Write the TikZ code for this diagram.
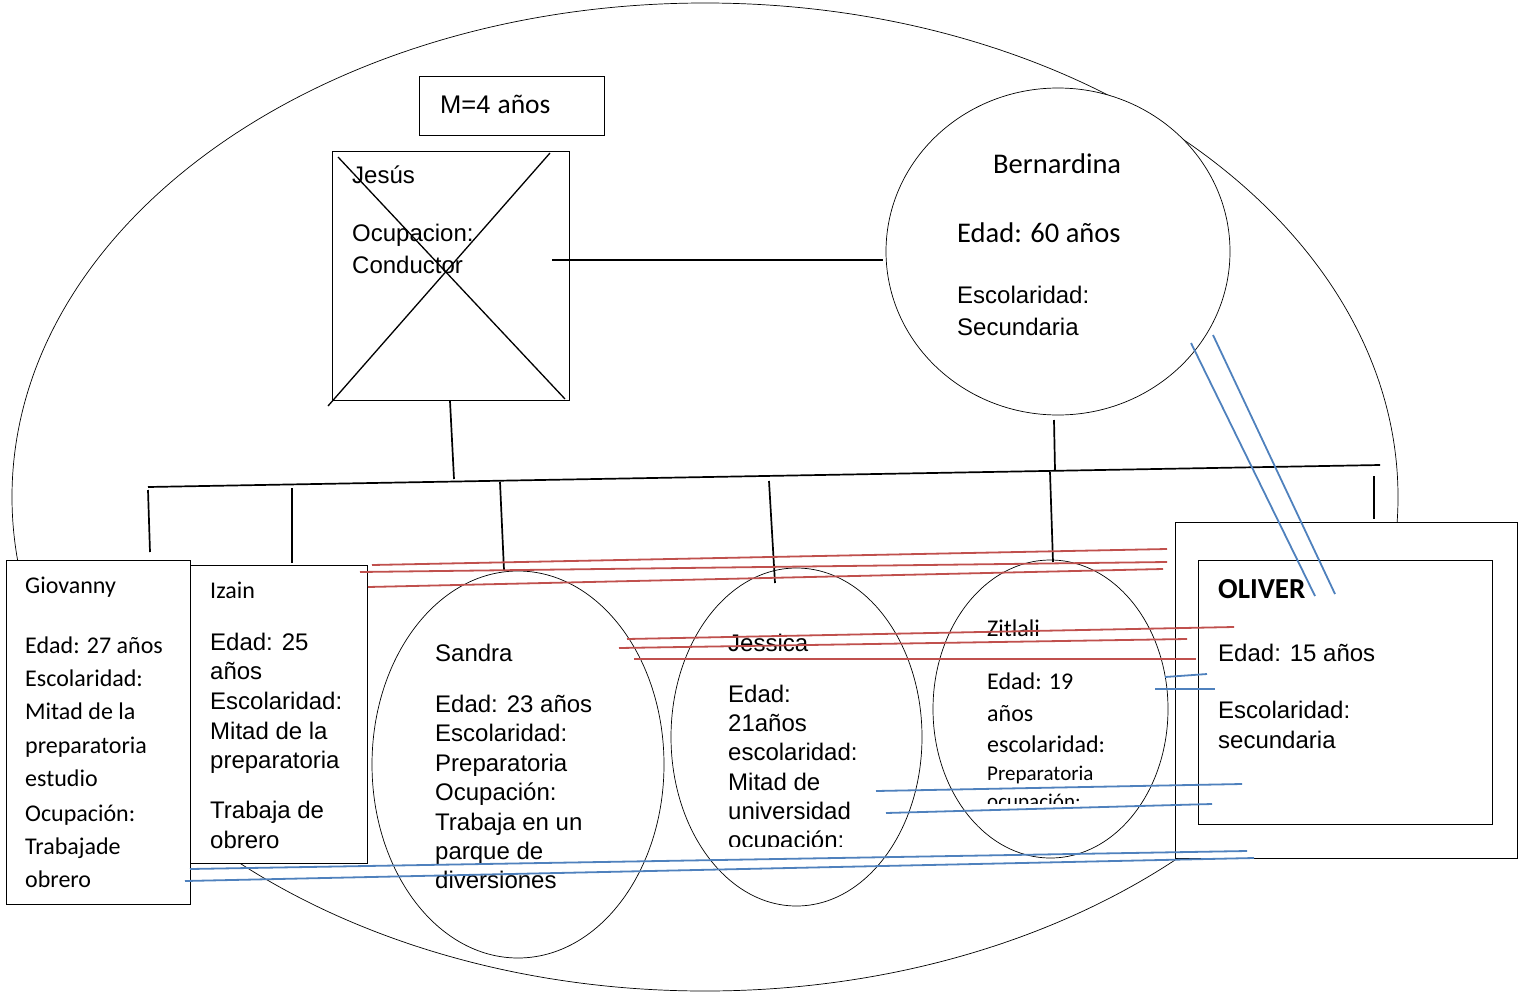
\documentclass[tikz,border=0pt]{standalone}
\usepackage{fontspec}
\setmainfont{Liberation Sans}
\newfontfamily\calibri{Carlito}
\usetikzlibrary{shapes.geometric}
\definecolor{lineared}{RGB}{192,80,77}
\definecolor{lineablue}{RGB}{79,129,189}

\begin{document}
\begin{tikzpicture}[x=1pt,y=-1pt,
    caja/.style={draw, fill=white, rectangle, inner sep=0pt, line width=0.9pt},
    ovalo/.style={draw, fill=white, ellipse, inner sep=0pt, line width=0.7pt},
    arial/.style={anchor=base west, inner sep=0pt, font=\fontsize{24}{29}\selectfont},
    cali/.style={anchor=base west, inner sep=0pt, font=\calibri\fontsize{24}{29}\selectfont},
    calichica/.style={anchor=base west, inner sep=0pt, font=\calibri\fontsize{21}{25}\selectfont},
    caligrande/.style={anchor=base west, inner sep=0pt, font=\calibri\fontsize{28.5}{34}\selectfont},
    calinegra/.style={anchor=base west, inner sep=0pt, font=\calibri\bfseries\fontsize{29}{34}\selectfont}]
    \useasboundingbox (0,0) rectangle (1523,993);
        \node[draw, ellipse, inner sep=0pt, line width=0.7pt, minimum width=1386pt, minimum height=988pt] (familia) at (705,497) {};
        % cajas y ovalos
        \foreach \x/\y/\w/\h/\n in {511.5/105.5/185/59/medad,450.5/275.5/237/249/jesus,98/732/184/344/giovanny,278.5/714/177/298/izain,1346/690/342/336/oliverout,1345/692/294/264/oliver}{
            \node[caja, minimum width=\w pt, minimum height=\h pt] (\n) at (\x,\y) {};
        }
        \foreach \x/\y/\w/\h/\n in {1058/251.5/344/327/bernardina,518/764.5/292/387/sandra,796.5/737/251/338/jessica,1050.5/709/235/298/zitlali}{
            \node[ovalo, minimum width=\w pt, minimum height=\h pt] (\n) at (\x,\y) {};
        }
        % textos
        \node[arial, font=\fontsize{25.5}{29}\selectfont] (m1) at (440,113) {M=4 {\calibri\fontsize{27.5}{30}\selectfont años}};
        \foreach \x/\y/\n/\s/\l in {352/183/je1/arial/Jesús,352/241.5/je2/arial/Ocupacion:,352/273/je3/arial/Conductor,
            993/173/be1/caligrande/Bernardina,957/242/be2/caligrande/Edad: 60 años,957/303/be3/arial/Escolaridad:,957/335/be4/arial/Secundaria,
            25/593/gi1/cali/Giovanny,25/653/gi2/cali/Edad: 27 años,25/686/gi3/cali/Escolaridad:,25/719/gi4/cali/Mitad de la,25/753/gi5/cali/preparatoria,25/786/gi6/cali/estudio,25/821/gi7/cali/Ocupación:,25/854/gi8/cali/Trabajade,25/887/gi9/cali/obrero,
            210/598/iz1/cali/Izain,210/650/iz2/arial/Edad: 25,210/679/iz3/arial/años,210/709/iz4/arial/Escolaridad:,210/739/iz5/arial/Mitad de la,210/768/iz6/arial/preparatoria,210/818/iz7/arial/Trabaja de,210/848/iz8/arial/obrero,
            435/661/sa1/arial/Sandra,435/712/sa2/arial/Edad: 23 años,435/741/sa3/arial/Escolaridad:,435/771/sa4/arial/Preparatoria,435/800/sa5/arial/Ocupación:,435/830/sa6/arial/Trabaja en un,435/859/sa7/arial/parque de,435/888/sa8/arial/diversiones,
            1218/598/ol1/calinegra/OLIVER,1218/661/ol2/arial/Edad: 15 años,1218/718/ol3/arial/Escolaridad:,1218/748/ol4/arial/secundaria}{
            \node[\s] (\n) at (\x,\y) {\l};
        }
        \begin{scope}
            \clip (700,600) rectangle (900,846);
            \foreach \x/\y/\n/\l in {728/651/js1/Jessica,728/702/js2/Edad:,728/731/js3/21años,728/760/js4/escolaridad:,728/790/js5/Mitad de,728/819/js6/universidad,728/848/js7/ocupación:}{
                \node[arial] (\n) at (\x,\y) {\l};
            }
        \end{scope}
        \begin{scope}
            \clip (960,600) rectangle (1140,803);
            \foreach \x/\y/\n/\s/\l in {987/636/zi1/cali/Zitlali,987/689/zi2/cali/Edad: 19,987/721/zi3/cali/años,987/752/zi4/cali/escolaridad:,987/780/zi5/calichica/Preparatoria,987/808/zi6/calichica/ocupación:}{
                \node[\s] (\n) at (\x,\y) {\l};
            }
        \end{scope}
        % puntos de las lineas
        \foreach \x/\y/\n in {338/157/xa,565/399/xb,550/153/xc,328/406/xd,552/260/jesusR,883/260/bernaL,450/401/jesusB,454/479/barJ,1054/420/bernaB,1055/470/barB,148/487/barL,1380/465/barR,
            148/490/g1,150/552/g2,292/488/i1,292/563/i2,500/482/s1,504/570/s2,769/481/j1,775/583/j2,1050/472/z1,1053/562/z2,1374/476/o1,1374/519/o2}{
            \coordinate (\n) at (\x,\y);
        }
        \foreach \m/\n in {xa/xb,xc/xd}{
            \draw[line width=1.3pt] (\m) -- (\n);
        }
        \foreach \m/\n in {jesusR/bernaL,jesusB/barJ,bernaB/barB,barL/barR,g1/g2,i1/i2,s1/s2,j1/j2,z1/z2,o1/o2}{
            \draw[line width=1.7pt] (\m) -- (\n);
        }
        % lineas rojas
        \foreach \x/\y/\u/\v/\n in {372/565/1167/549/r1,360/572/1167/562/r2,368/587/1163/569/r3,627/639/1234/627/r4,619/648/1187/639/r5,634/659/1196/659/r6}{
            \coordinate (\n a) at (\x,\y);
            \coordinate (\n b) at (\u,\v);
            \draw[lineared, line width=1.8pt] (\n a) -- (\n b);
        }
        % lineas azules
        \foreach \x/\y/\u/\v/\n in {1191/343/1315/596/b1,1213/335/1335/594/b2,1165/677/1207/674/b3,1155/689/1215/689/b4,876/791/1242/784/b5,886/813/1212/804/b6,190/869/1247/851/b7,185/881/1254/858/b8}{
            \coordinate (\n a) at (\x,\y);
            \coordinate (\n b) at (\u,\v);
            \draw[lineablue, line width=1.8pt] (\n a) -- (\n b);
        }
    \end{tikzpicture}
\end{document}
